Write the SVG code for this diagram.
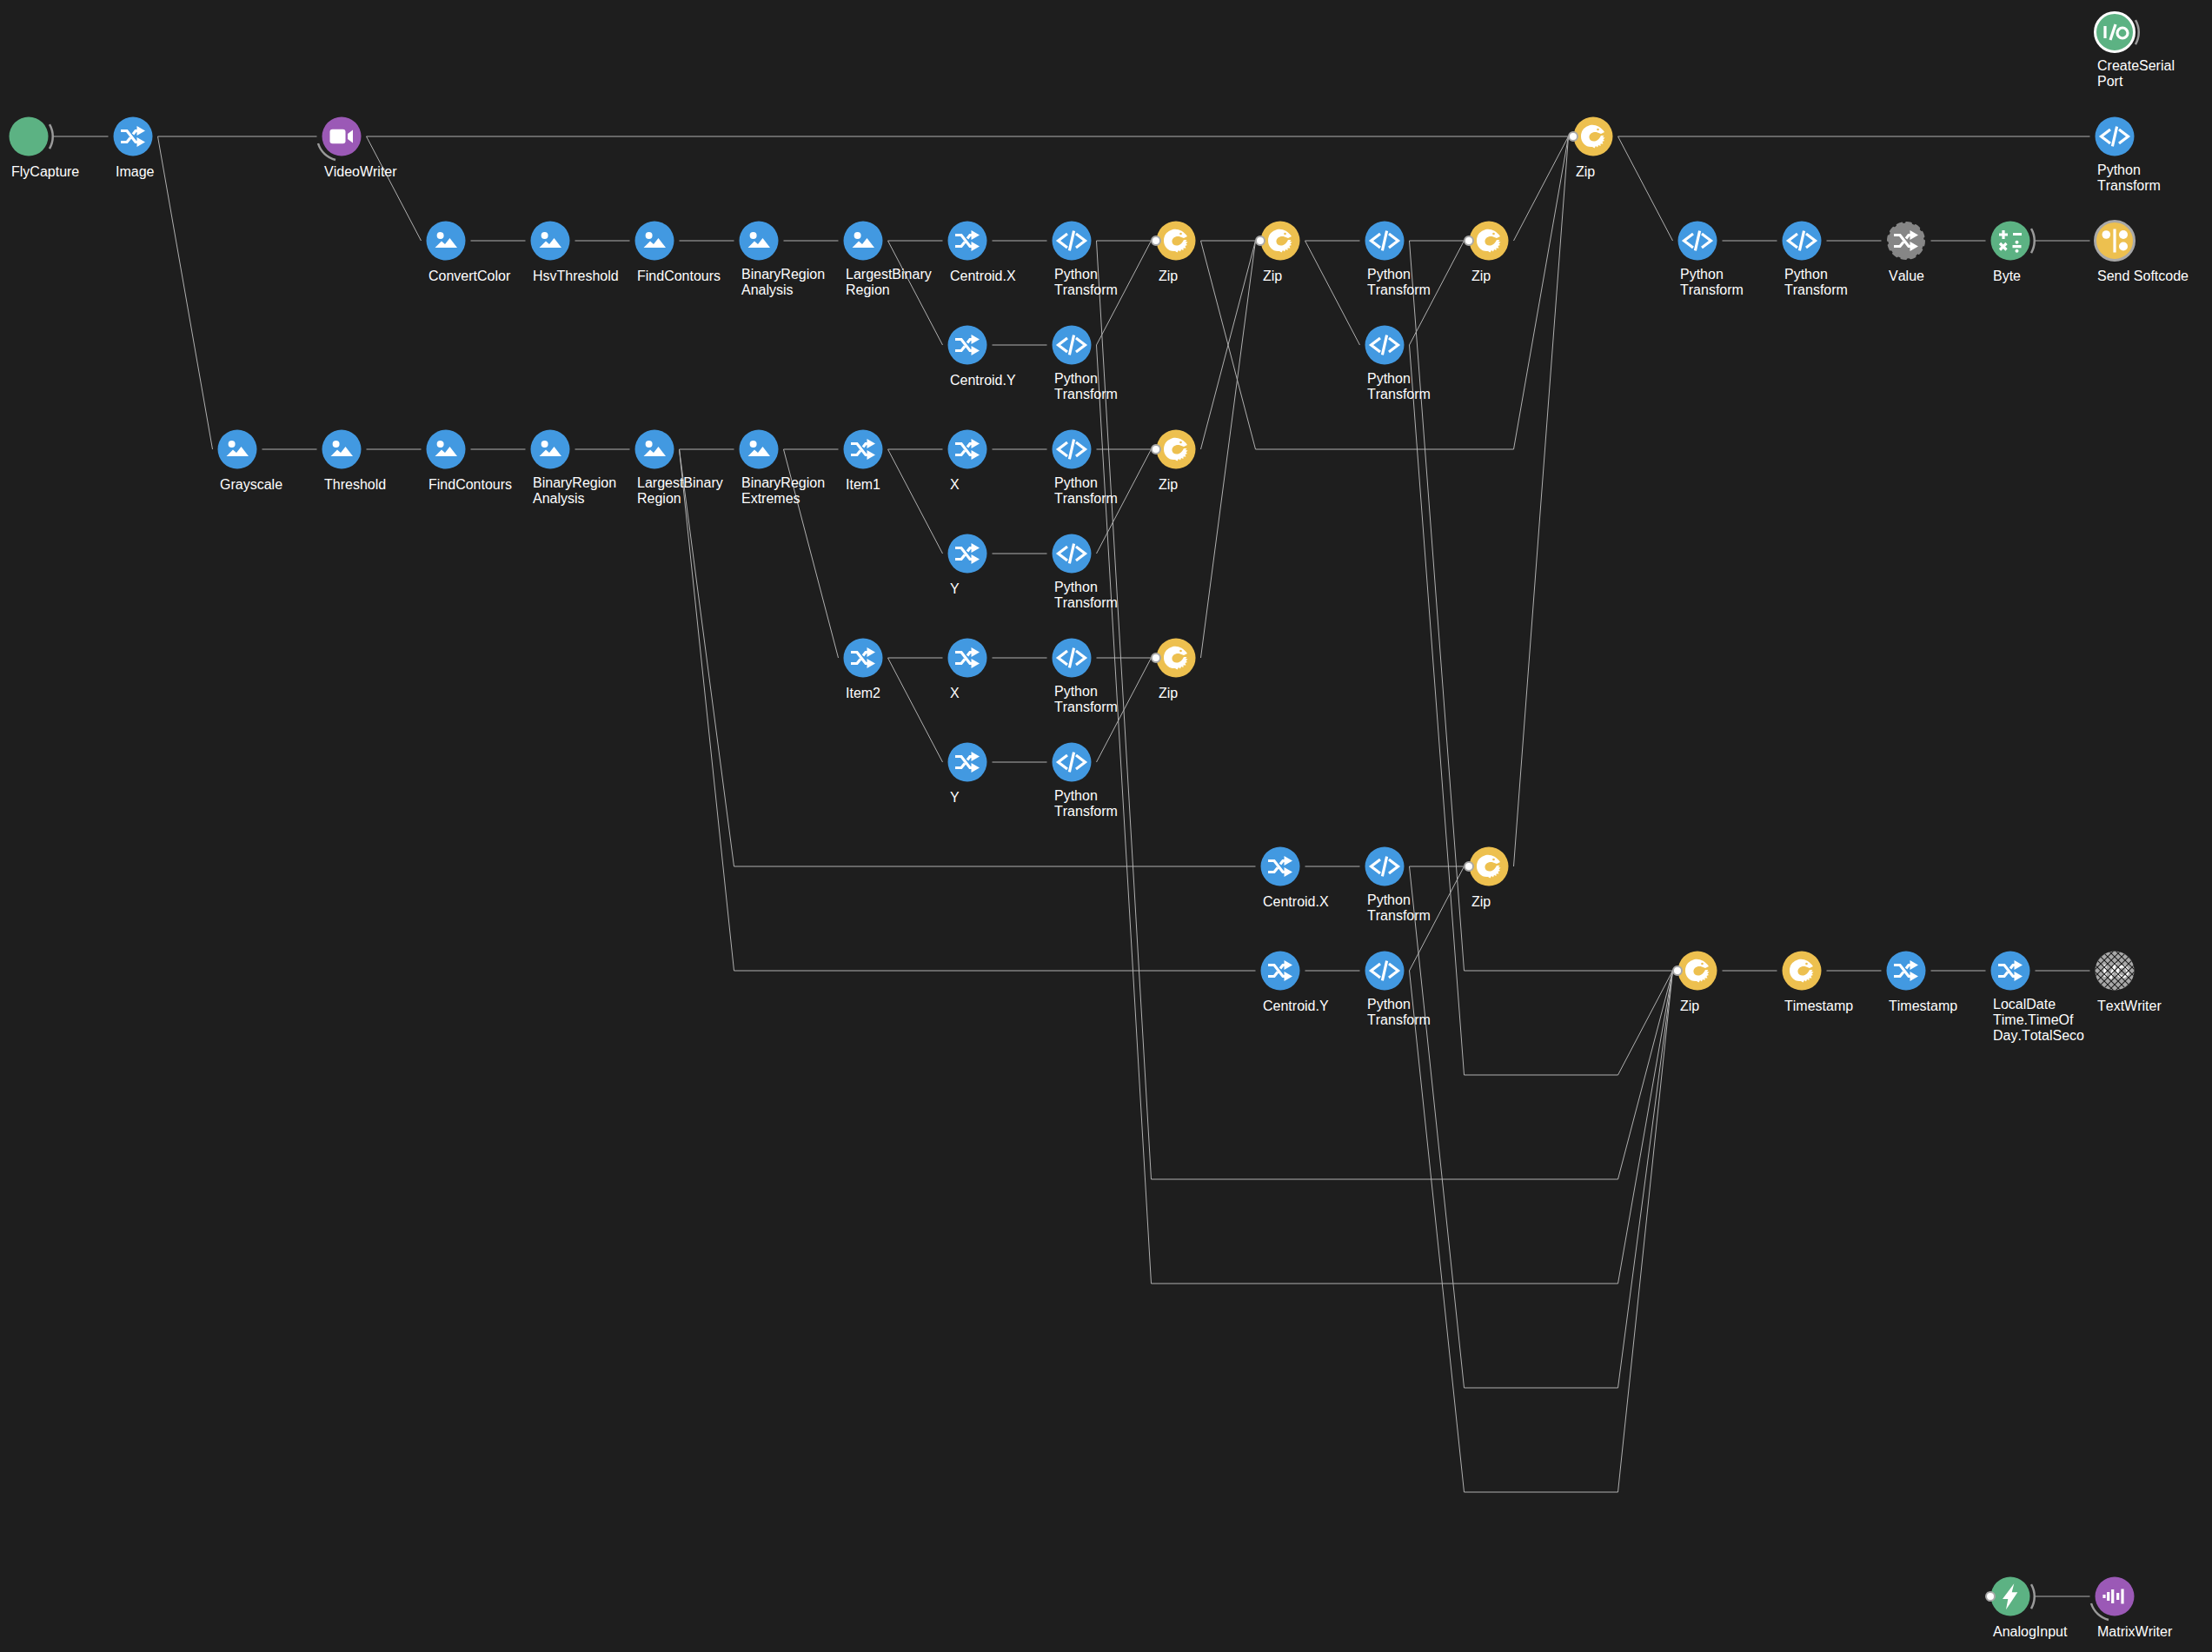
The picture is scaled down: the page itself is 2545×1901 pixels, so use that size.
<svg xmlns="http://www.w3.org/2000/svg" width="2545" height="1901" viewBox="0 0 2545 1901">
<style>
text{font-family:"Liberation Sans",Arial,sans-serif;font-size:16px;fill:#fff;font-kerning:none}
.blue{fill:#4299e1}.green{fill:#5cb283}.yellow{fill:#edc04f}.purple{fill:#9b59b6}
#edges path{fill:none;stroke:#b0b0b0;stroke-width:1}
.arc{fill:none;stroke:#9a9a9a;stroke-width:2.5}
.port{fill:#fff;stroke:#a8a8a8;stroke-width:2}
.w{fill:none;stroke:#fff;stroke-width:3.2}
.wf{fill:#fff}
</style>
<defs>
<g id="shuffle"><path class="w" d="M-14,-6.5H-7L3,6.5H6M-14,6.5H-7L-3,1.5M0,-2.5L3,-6.5H6"/><path class="wf" d="M4.5,-12L14,-6.5L4.5,-1ZM4.5,1L14,6.5L4.5,12Z"/></g>
<g id="picture"><circle class="wf" cx="-6.4" cy="-6" r="4"/><path class="wf" d="M-12.5,8L-5,0.5L-1,4L4.5,-3L13,8Z"/></g>
<g id="code"><path class="w" stroke-width="3.4" d="M-5,-8L-15.5,0L-5,8M5,-8L15.5,0L5,8M2.6,-11.3L-2.6,11.3"/></g>
<g id="eel"><path class="wf" d="M-6,-12C-1,-15 8,-13 13,-5L9,-3L5,-4.500C0,-6 -5,-3 -4.500,1.500C-4,5 0,6.500 3.500,5C6,4 8,1.500 9,-1L12.500,-1L11,1L13.500,1.500L11.500,3.500L13,5L10.500,6L11.500,8.500L8.500,8.500L8.500,11L6,10L5,12.500L3,11L1.500,13.500L-1,12C-8,13 -14,7 -14,0C-14,-6 -11,-10 -6,-12Z"/><circle class="yellow" cx="5.500" cy="-8" r="1.300"/></g>
<g id="io"><path class="w" d="M-11,-7V7M-5,9L1,-9"/><circle class="w" cx="9" cy="1" r="6"/></g>
<pattern id="hatch" width="8" height="8" patternUnits="userSpaceOnUse"><path d="M0,0L8,8M8,0L0,8" stroke="#1e1e1e" stroke-width="1.100" fill="none"/></pattern>
</defs>
<rect width="2545" height="1901" fill="#1e1e1e"/>
<g id="edges">
<path d="M61.500,157H124.500"/>
<path d="M181.500,157H364.500"/>
<path d="M181.500,157L244.500,517"/>
<path d="M421.500,157H1804.500"/>
<path d="M421.500,157L484.500,277"/>
<path d="M541.500,277H604.500M661.500,277H724.500M781.500,277H844.500M901.500,277H964.500M1021.500,277H1084.500M1141.500,277H1204.500M1261.500,277H1324.500M1381.500,277H1444.500M1501.500,277H1564.500M1621.500,277H1684.500"/>
<path d="M1021.500,277L1084.500,397"/>
<path d="M1141.500,397H1204.500"/>
<path d="M1261.500,397L1324.500,277"/>
<path d="M1501.500,277L1564.500,397"/>
<path d="M1621.500,397L1684.500,277"/>
<path d="M1741.500,277L1804.500,157"/>
<path d="M1381.500,277L1444.500,517H1741.500L1804.500,157"/>
<path d="M1741.500,997L1804.500,157"/>
<path d="M1861.500,157H2404.500"/>
<path d="M1861.500,157L1924.500,277"/>
<path d="M1981.500,277H2044.500M2101.500,277H2164.500M2221.500,277H2284.500M2341.500,277H2404.500"/>
<path d="M301.500,517H364.500M421.500,517H484.500M541.500,517H604.500M661.500,517H724.500M781.500,517H844.500M901.500,517H964.500M1021.500,517H1084.500M1141.500,517H1204.500M1261.500,517H1324.500"/>
<path d="M781.500,517L844.500,997H1444.500"/>
<path d="M781.500,517L844.500,1117H1444.500"/>
<path d="M901.500,517L964.500,757"/>
<path d="M1021.500,517L1084.500,637"/>
<path d="M1141.500,637H1204.500"/>
<path d="M1261.500,637L1324.500,517"/>
<path d="M1021.500,757H1084.500M1141.500,757H1204.500M1261.500,757H1324.500"/>
<path d="M1021.500,757L1084.500,877"/>
<path d="M1141.500,877H1204.500"/>
<path d="M1261.500,877L1324.500,757"/>
<path d="M1381.500,517L1444.500,277"/>
<path d="M1381.500,757L1444.500,277"/>
<path d="M1501.500,997H1564.500M1621.500,997H1684.500"/>
<path d="M1501.500,1117H1564.500"/>
<path d="M1621.500,1117L1684.500,997"/>
<path d="M1621.500,277L1684.500,1117H1924.500"/>
<path d="M1621.500,397L1684.500,1237H1861.500L1924.500,1117"/>
<path d="M1621.500,997L1684.500,1597H1861.500L1924.500,1117"/>
<path d="M1621.500,1117L1684.500,1717H1861.500L1924.500,1117"/>
<path d="M1261.500,277L1324.500,1357H1861.500L1924.500,1117"/>
<path d="M1261.500,397L1324.500,1477H1861.500L1924.500,1117"/>
<path d="M1981.500,1117H2044.500M2101.500,1117H2164.500M2221.500,1117H2284.500M2341.500,1117H2404.500"/>
<path d="M2341.500,1837H2404.500"/>
</g>
<g id="n-flycapture" transform="translate(33,157)"><circle class="green" r="22.500"/><path class="arc" d="M24,-14A28,28 0 0 1 24,14"/><text x="-20" y="46">FlyCapture</text></g>
<g id="n-image" transform="translate(153,157)"><circle class="blue" r="22.500"/><use href="#shuffle"/><text x="-20" y="46">Image</text></g>
<g id="n-videowriter" transform="translate(393,157)"><circle class="purple" r="22.500"/><rect class="wf" x="-13.500" y="-8.300" width="18" height="16.600" rx="3"/><path class="wf" d="M7,-3L13,-7.500V7.500L7,3Z"/><path class="arc" d="M-27,8A28,28 0 0 0 -7,27"/><text x="-20" y="46">VideoWriter</text></g>
<g id="n-createserialport" transform="translate(2433,37)"><circle class="green" r="22.500" stroke="#fff" stroke-width="3"/><use href="#io"/><path class="arc" d="M24,-14A28,28 0 0 1 24,14"/><text x="-20" y="44">CreateSerial<tspan x="-20" dy="18">Port</tspan></text></g>
<g id="n-pt-top" transform="translate(2433,157)"><circle class="blue" r="22.500"/><use href="#code"/><text x="-20" y="44">Python<tspan x="-20" dy="18">Transform</tspan></text></g>
<g id="n-zip-top" transform="translate(1833,157)"><circle class="yellow" r="22.500"/><use href="#eel"/><circle class="port" cx="-23" r="5"/><text x="-20" y="46">Zip</text></g>

<g id="n-convertcolor" transform="translate(513,277)"><circle class="blue" r="22.500"/><use href="#picture"/><text x="-20" y="46">ConvertColor</text></g>
<g id="n-hsvthreshold" transform="translate(633,277)"><circle class="blue" r="22.500"/><use href="#picture"/><text x="-20" y="46">HsvThreshold</text></g>
<g id="n-findcontours-a" transform="translate(753,277)"><circle class="blue" r="22.500"/><use href="#picture"/><text x="-20" y="46">FindContours</text></g>
<g id="n-bra-a" transform="translate(873,277)"><circle class="blue" r="22.500"/><use href="#picture"/><text x="-20" y="44">BinaryRegion<tspan x="-20" dy="18">Analysis</tspan></text></g>
<g id="n-lbr-a" transform="translate(993,277)"><circle class="blue" r="22.500"/><use href="#picture"/><text x="-20" y="44">LargestBinary<tspan x="-20" dy="18">Region</tspan></text></g>
<g id="n-centroidx-a" transform="translate(1113,277)"><circle class="blue" r="22.500"/><use href="#shuffle"/><text x="-20" y="46">Centroid.X</text></g>
<g id="n-pt-a" transform="translate(1233,277)"><circle class="blue" r="22.500"/><use href="#code"/><text x="-20" y="44">Python<tspan x="-20" dy="18">Transform</tspan></text></g>
<g id="n-zip-a" transform="translate(1353,277)"><circle class="yellow" r="22.500"/><use href="#eel"/><circle class="port" cx="-23" r="5"/><text x="-20" y="46">Zip</text></g>
<g id="n-zip-b" transform="translate(1473,277)"><circle class="yellow" r="22.500"/><use href="#eel"/><circle class="port" cx="-23" r="5"/><text x="-20" y="46">Zip</text></g>
<g id="n-pt-b" transform="translate(1593,277)"><circle class="blue" r="22.500"/><use href="#code"/><text x="-20" y="44">Python<tspan x="-20" dy="18">Transform</tspan></text></g>
<g id="n-zip-c" transform="translate(1713,277)"><circle class="yellow" r="22.500"/><use href="#eel"/><circle class="port" cx="-23" r="5"/><text x="-20" y="46">Zip</text></g>
<g id="n-pt-c" transform="translate(1953,277)"><circle class="blue" r="22.500"/><use href="#code"/><text x="-20" y="44">Python<tspan x="-20" dy="18">Transform</tspan></text></g>
<g id="n-pt-d" transform="translate(2073,277)"><circle class="blue" r="22.500"/><use href="#code"/><text x="-20" y="44">Python<tspan x="-20" dy="18">Transform</tspan></text></g>
<g id="n-value" transform="translate(2193,277)"><circle r="20.500" fill="#868686" stroke="#868686" stroke-width="3" stroke-linecap="round" stroke-dasharray="5 5.730"/><use href="#shuffle"/><text x="-20" y="46">Value</text></g>
<g id="n-byte" transform="translate(2313,277)"><circle class="green" r="22.500"/><path class="w" d="M-13,-7H-3M-8,-12V-2M3,-7.500H13M-12,3L-4.500,10.500M-4.500,3L-12,10.500M2.500,6.700H12.500"/><circle class="wf" cx="7.500" cy="1.700" r="2"/><circle class="wf" cx="7.500" cy="11.700" r="2"/><path class="arc" d="M24,-14A28,28 0 0 1 24,14"/><text x="-20" y="46">Byte</text></g>
<g id="n-sendsoftcode" transform="translate(2433,277)"><circle class="yellow" r="22.500" stroke="#a8a8a8" stroke-width="3"/><circle class="wf" cx="-9.700" cy="-7" r="4.800"/><circle class="wf" cx="10" cy="-7" r="5"/><circle class="wf" cx="10" cy="6.500" r="5"/><path class="w" d="M0,-13.500V13.500"/><text x="-20" y="46">Send Softcode</text></g>

<g id="n-centroidy-a" transform="translate(1113,397)"><circle class="blue" r="22.500"/><use href="#shuffle"/><text x="-20" y="46">Centroid.Y</text></g>
<g id="n-pt-e" transform="translate(1233,397)"><circle class="blue" r="22.500"/><use href="#code"/><text x="-20" y="44">Python<tspan x="-20" dy="18">Transform</tspan></text></g>
<g id="n-pt-f" transform="translate(1593,397)"><circle class="blue" r="22.500"/><use href="#code"/><text x="-20" y="44">Python<tspan x="-20" dy="18">Transform</tspan></text></g>

<g id="n-grayscale" transform="translate(273,517)"><circle class="blue" r="22.500"/><use href="#picture"/><text x="-20" y="46">Grayscale</text></g>
<g id="n-threshold" transform="translate(393,517)"><circle class="blue" r="22.500"/><use href="#picture"/><text x="-20" y="46">Threshold</text></g>
<g id="n-findcontours-b" transform="translate(513,517)"><circle class="blue" r="22.500"/><use href="#picture"/><text x="-20" y="46">FindContours</text></g>
<g id="n-bra-b" transform="translate(633,517)"><circle class="blue" r="22.500"/><use href="#picture"/><text x="-20" y="44">BinaryRegion<tspan x="-20" dy="18">Analysis</tspan></text></g>
<g id="n-lbr-b" transform="translate(753,517)"><circle class="blue" r="22.500"/><use href="#picture"/><text x="-20" y="44">LargestBinary<tspan x="-20" dy="18">Region</tspan></text></g>
<g id="n-bre" transform="translate(873,517)"><circle class="blue" r="22.500"/><use href="#picture"/><text x="-20" y="44">BinaryRegion<tspan x="-20" dy="18">Extremes</tspan></text></g>
<g id="n-item1" transform="translate(993,517)"><circle class="blue" r="22.500"/><use href="#shuffle"/><text x="-20" y="46">Item1</text></g>
<g id="n-x1" transform="translate(1113,517)"><circle class="blue" r="22.500"/><use href="#shuffle"/><text x="-20" y="46">X</text></g>
<g id="n-pt-g" transform="translate(1233,517)"><circle class="blue" r="22.500"/><use href="#code"/><text x="-20" y="44">Python<tspan x="-20" dy="18">Transform</tspan></text></g>
<g id="n-zip-d" transform="translate(1353,517)"><circle class="yellow" r="22.500"/><use href="#eel"/><circle class="port" cx="-23" r="5"/><text x="-20" y="46">Zip</text></g>

<g id="n-y1" transform="translate(1113,637)"><circle class="blue" r="22.500"/><use href="#shuffle"/><text x="-20" y="46">Y</text></g>
<g id="n-pt-h" transform="translate(1233,637)"><circle class="blue" r="22.500"/><use href="#code"/><text x="-20" y="44">Python<tspan x="-20" dy="18">Transform</tspan></text></g>

<g id="n-item2" transform="translate(993,757)"><circle class="blue" r="22.500"/><use href="#shuffle"/><text x="-20" y="46">Item2</text></g>
<g id="n-x2" transform="translate(1113,757)"><circle class="blue" r="22.500"/><use href="#shuffle"/><text x="-20" y="46">X</text></g>
<g id="n-pt-i" transform="translate(1233,757)"><circle class="blue" r="22.500"/><use href="#code"/><text x="-20" y="44">Python<tspan x="-20" dy="18">Transform</tspan></text></g>
<g id="n-zip-e" transform="translate(1353,757)"><circle class="yellow" r="22.500"/><use href="#eel"/><circle class="port" cx="-23" r="5"/><text x="-20" y="46">Zip</text></g>

<g id="n-y2" transform="translate(1113,877)"><circle class="blue" r="22.500"/><use href="#shuffle"/><text x="-20" y="46">Y</text></g>
<g id="n-pt-j" transform="translate(1233,877)"><circle class="blue" r="22.500"/><use href="#code"/><text x="-20" y="44">Python<tspan x="-20" dy="18">Transform</tspan></text></g>

<g id="n-centroidx-b" transform="translate(1473,997)"><circle class="blue" r="22.500"/><use href="#shuffle"/><text x="-20" y="46">Centroid.X</text></g>
<g id="n-pt-k" transform="translate(1593,997)"><circle class="blue" r="22.500"/><use href="#code"/><text x="-20" y="44">Python<tspan x="-20" dy="18">Transform</tspan></text></g>
<g id="n-zip-f" transform="translate(1713,997)"><circle class="yellow" r="22.500"/><use href="#eel"/><circle class="port" cx="-23" r="5"/><text x="-20" y="46">Zip</text></g>

<g id="n-centroidy-b" transform="translate(1473,1117)"><circle class="blue" r="22.500"/><use href="#shuffle"/><text x="-20" y="46">Centroid.Y</text></g>
<g id="n-pt-l" transform="translate(1593,1117)"><circle class="blue" r="22.500"/><use href="#code"/><text x="-20" y="44">Python<tspan x="-20" dy="18">Transform</tspan></text></g>
<g id="n-zip-g" transform="translate(1953,1117)"><circle class="yellow" r="22.500"/><use href="#eel"/><circle class="port" cx="-23" r="5"/><text x="-20" y="46">Zip</text></g>
<g id="n-timestamp-a" transform="translate(2073,1117)"><circle class="yellow" r="22.500"/><use href="#eel"/><text x="-20" y="46">Timestamp</text></g>
<g id="n-timestamp-b" transform="translate(2193,1117)"><circle class="blue" r="22.500"/><use href="#shuffle"/><text x="-20" y="46">Timestamp</text></g>
<g id="n-localdate" transform="translate(2313,1117)"><circle class="blue" r="22.500"/><use href="#shuffle"/><text x="-20" y="44">LocalDate<tspan x="-20" dy="18">Time.TimeOf</tspan><tspan x="-20" dy="18">Day.TotalSeco</tspan></text></g>
<g id="n-textwriter" transform="translate(2433,1117)"><circle r="22.500" fill="#a8a8a8"/><use href="#io"/><circle r="22.500" fill="url(#hatch)"/><text x="-20" y="46">TextWriter</text></g>

<g id="n-analoginput" transform="translate(2313,1837)"><circle class="green" r="22.500"/><path class="wf" d="M4.300,-14.700L-9,3H-2.700L-5,15.300L8.300,-4.700H1.700Z"/><circle class="port" cx="-23" r="5"/><path class="arc" d="M24,-14A28,28 0 0 1 24,14"/><text x="-20" y="46">AnalogInput</text></g>
<g id="n-matrixwriter" transform="translate(2433,1837)"><circle class="purple" r="22.500"/><path class="w" stroke-width="3" d="M-12,-2V2M-7.300,-5V5M-2.300,-8V8M3.700,-4V4M9,-8.500V8.500"/><path class="arc" d="M-27,8A28,28 0 0 0 -7,27"/><text x="-20" y="46">MatrixWriter</text></g>
</svg>
